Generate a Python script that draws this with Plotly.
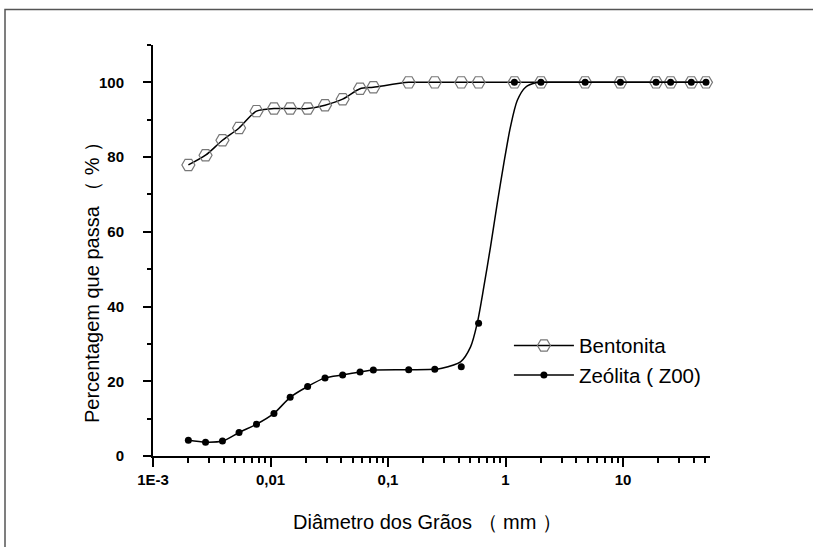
import plotly.graph_objects as go

# grain diameters (mm)
diam = [0.002, 0.0028, 0.0039, 0.0054, 0.0076, 0.0107, 0.0147, 0.0207, 0.0291,
        0.0411, 0.0578, 0.075, 0.15, 0.25, 0.42, 0.59, 1.19, 2.0, 4.76, 9.5,
        19.1, 25.4, 38.1, 50.8]
bentonita = [77.9, 80.5, 84.5, 87.8, 92.3, 93.0, 93.0, 93.0, 93.9, 95.5, 98.3,
             98.7, 100, 100, 100, 100, 100, 100, 100, 100, 100, 100, 100, 100]
zeol_diam = [0.002, 0.0028, 0.0039, 0.0054, 0.0076, 0.0107, 0.0147, 0.0207, 0.0291,
             0.0411, 0.0578, 0.075, 0.15, 0.25, 0.42, 0.59, 1.19, 2.0, 4.76, 9.5,
             19.1, 25.4, 38.1, 50.8]
zeolita = [4.2, 3.7, 4.0, 6.3, 8.5, 11.4, 15.7, 18.6, 20.9, 21.7, 22.5, 23.0,
           23.1, 23.2, 23.9, 35.5, 100, 100, 100, 100, 100, 100, 100, 100]

# fitted curve for zeolite
zeol_fit_x = [0.002, 0.0028, 0.0039, 0.0054, 0.0076, 0.0107, 0.0147, 0.0207, 0.0291,
              0.0411, 0.0578, 0.075, 0.15, 0.25, 0.28, 0.414, 0.504, 0.574, 0.654,
              0.745, 0.850, 0.967, 1.10, 1.26, 1.48, 1.80, 2.0, 4.76, 9.5, 19.1,
              25.4, 38.1, 50.8]
zeol_fit_y = [4.2, 3.7, 4.0, 6.3, 8.5, 11.4, 15.7, 18.6, 20.9, 21.7, 22.5, 23.0,
              23.1, 23.2, 23.4, 25.2, 29.2, 35.5, 45.3, 56.0, 67.6, 78.3, 88.0,
              95.2, 98.7, 99.9, 100, 100, 100, 100, 100, 100, 100]

tick_vals = [0.001, 0.01, 0.1, 1, 10]
tick_text = ["1E-3", "0,01", "0,1", "1", "10"]
y_ticks = [0, 20, 40, 60, 80, 100]

FONT = "Liberation Sans, Arial, sans-serif"

fig = go.Figure()

fig.add_trace(go.Scatter(
    x=diam, y=bentonita, mode="lines+markers", name="Bentonita",
    line=dict(color="black", width=1.5, shape="spline", smoothing=0.8),
    marker=dict(symbol="hexagon2-open", size=13, color="#777777",
                line=dict(width=1.2, color="#777777")),
    cliponaxis=False,
))
fig.add_trace(go.Scatter(
    x=zeol_fit_x, y=zeol_fit_y, mode="lines", showlegend=False,
    line=dict(color="black", width=1.5, shape="spline", smoothing=0.8),
    hoverinfo="skip", cliponaxis=False,
))
fig.add_trace(go.Scatter(
    x=zeol_diam, y=zeolita, mode="markers", showlegend=False,
    marker=dict(symbol="circle", size=7, color="black"),
    cliponaxis=False,
))
fig.add_trace(go.Scatter(
    x=[None], y=[None], mode="lines+markers", name="Zeólita ( Z00)",
    line=dict(color="black", width=1.5),
    marker=dict(symbol="circle", size=7, color="black"),
))

fig.update_layout(
    width=813, height=547,
    margin=dict(l=153, r=103, t=45, b=91),
    paper_bgcolor="white", plot_bgcolor="white",
    font=dict(family=FONT, color="black"),
    showlegend=True,
    legend=dict(x=0.639, y=0.232, xanchor="left", yanchor="middle",
                bgcolor="rgba(0,0,0,0)", font=dict(size=20.5, family=FONT),
                itemwidth=60, tracegroupgap=0),
    xaxis=dict(
        type="log", range=[-3, 1.74],
        tickvals=tick_vals, ticktext=["<b>%s</b>" % t for t in tick_text],
        tickfont=dict(size=15, family=FONT),
        ticks="outside", ticklen=9, tickwidth=2, tickcolor="black",
        showline=True, linecolor="black", linewidth=2,
        showgrid=False, zeroline=False,
        minor=dict(ticks="outside", ticklen=5, tickwidth=2, tickcolor="black",
                   dtick="D1", showgrid=False),
    ),
    yaxis=dict(
        range=[0, 110],
        tickvals=y_ticks, ticktext=["<b>%d</b>" % v for v in y_ticks],
        tickfont=dict(size=15, family=FONT),
        ticks="outside", ticklen=8, tickwidth=2, tickcolor="black",
        ticklabelstandoff=16,
        showline=True, linecolor="black", linewidth=2,
        showgrid=False, zeroline=False,
        minor=dict(ticks="outside", ticklen=4, tickwidth=2, tickcolor="black",
                   dtick=10, showgrid=False),
    ),
    annotations=[
        dict(text="Diâmetro dos Grãos （ mm ）", xref="paper", yref="paper",
             x=0.492, y=-0.160, xanchor="center", yanchor="middle",
             showarrow=False, font=dict(size=20, family=FONT)),
        dict(text="Percentagem que passa （ % ）", xref="paper", yref="paper",
             x=-0.1095, y=0.433, xanchor="center", yanchor="middle", textangle=-90,
             showarrow=False, font=dict(size=20, family=FONT)),
    ],
    shapes=[
        dict(type="rect", xref="paper", yref="paper",
             x0=-0.2657, y0=-0.3, x1=1.25, y1=1.0865,
             line=dict(color="#555555", width=1.5), layer="below"),
    ],
)

fig.write_html("out.html")
